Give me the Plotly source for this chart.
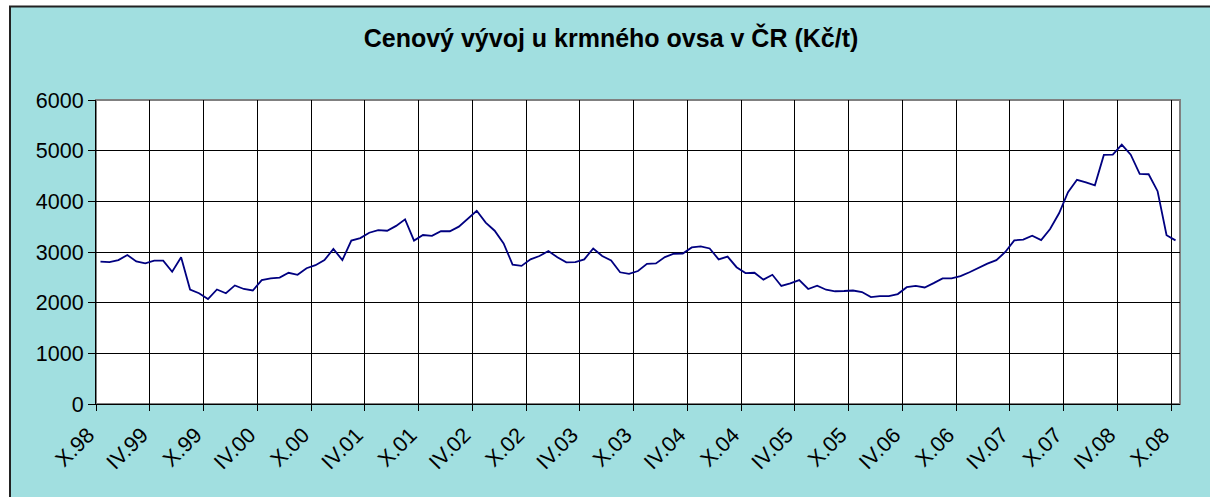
import plotly.graph_objects as go

# Měsíční ceny krmného ovsa (Kč/t), X.1998 – X.2008
ROMAN = ["I", "II", "III", "IV", "V", "VI", "VII", "VIII", "IX", "X", "XI", "XII"]

cena = [
    2810, 2800, 2840, 2940, 2815, 2775, 2830, 2830, 2610, 2895,
    2260, 2185, 2070, 2260, 2185, 2340, 2270, 2240, 2445, 2480,
    2495, 2590, 2550, 2680, 2740, 2840, 3060, 2840, 3225, 3275,
    3380, 3430, 3420, 3515, 3645, 3225, 3335, 3320, 3410, 3410,
    3500, 3665, 3815, 3580, 3420, 3170, 2750, 2725, 2855, 2920,
    3020, 2895, 2795, 2800, 2855, 3070, 2920, 2835, 2600, 2570,
    2625, 2765, 2775, 2900, 2965, 2970, 3090, 3110, 3070, 2855,
    2910, 2700, 2585, 2590, 2455, 2550, 2330, 2380, 2445, 2270,
    2335, 2255, 2225, 2230, 2240, 2210, 2110, 2130, 2130, 2170,
    2305, 2330, 2300, 2385, 2480, 2480, 2525, 2600, 2690, 2770,
    2840, 3000, 3230, 3245, 3320, 3235, 3455, 3765, 4180, 4425,
    4375, 4315, 4915, 4920, 5120, 4920, 4540, 4535, 4200, 3330,
    3230,
]

# popisky kategorií ve tvaru "X.98", "XI.98", ...
mesice = [f"{ROMAN[(9 + i) % 12]}.{(98 + (9 + i) // 12) % 100:02d}" for i in range(len(cena))]
poradi = list(range(len(cena)))

tick_idx = list(range(0, len(cena), 6))
tick_text = [mesice[i] for i in tick_idx]
y_ticks = [0, 1000, 2000, 3000, 4000, 5000, 6000]

W, H = 1210, 497
L, T, R, B = 96, 100, 30, 93
pw, ph = W - L - R, H - T - B

def px_x(p):
    return (p - L) / pw

def px_y(p):
    return (H - B - p) / ph

FONT = "Liberation Sans, Arial, sans-serif"
CYAN = "#A1DFE0"

fig = go.Figure()
fig.add_trace(go.Scatter(
    x=poradi, y=cena, customdata=mesice,
    mode="lines", line=dict(color="#000080", width=1.8),
    hovertemplate="%{customdata}: %{y} Kč/t<extra></extra>",
    showlegend=False,
))

fig.update_layout(
    width=W, height=H,
    margin=dict(l=L, r=R, t=T, b=B, autoexpand=False),
    paper_bgcolor="white", plot_bgcolor="white",
    font=dict(family=FONT, size=21.5, color="black"),
    title=dict(
        text="Cenový vývoj u krmného ovsa v ČR (Kč/t)",
        font=dict(family=FONT, size=25, color="black", weight="bold"),
        x=611 / W, xref="container", xanchor="center",
        y=1 - 38 / H, yref="container", yanchor="middle",
    ),
    shapes=[
        # tyrkysové pozadí grafu s tmavým rámečkem (vpravo a dole oříznuto)
        dict(type="rect", xref="paper", yref="paper", layer="below",
             x0=px_x(10), x1=px_x(W + 20), y0=px_y(6.5), y1=px_y(H + 20),
             fillcolor=CYAN, line=dict(color="#222222", width=2)),
        # bílá plocha grafu s šedým okrajem
        dict(type="rect", xref="paper", yref="paper", layer="below",
             x0=0, x1=1, y0=0, y1=1,
             fillcolor="white", line=dict(color="#808080", width=2)),
    ],
)

fig.update_xaxes(
    automargin=False,
    range=[-0.5, len(cena) - 0.5],
    tickmode="array",
    tickvals=[i - 0.5 for i in tick_idx],
    ticktext=tick_text,
    tickangle=-45,
    ticklabelshift=-8, ticklabelstandoff=3,
    ticks="outside", ticklen=6, tickcolor="black", tickwidth=1,
    showgrid=True, gridcolor="black", gridwidth=1,
    showline=True, linecolor="black", linewidth=1,
    zeroline=False,
    tickfont=dict(family=FONT, size=21.5, color="black"),
)
fig.update_yaxes(
    automargin=False,
    range=[0, 6000],
    tickmode="array", tickvals=y_ticks,
    ticks="outside", ticklen=7, tickcolor="black", tickwidth=1,
    showgrid=True, gridcolor="black", gridwidth=1,
    showline=True, linecolor="black", linewidth=1,
    zeroline=False,
    tickfont=dict(family=FONT, size=21.5, color="black"),
)

# bez výchozího okraje stránky, aby graf přesně vyplnil okno
fig.write_html(
    "out.html",
    config={"displayModeBar": False},
    post_script="document.body.style.margin='0';document.body.style.overflow='hidden';",
)
